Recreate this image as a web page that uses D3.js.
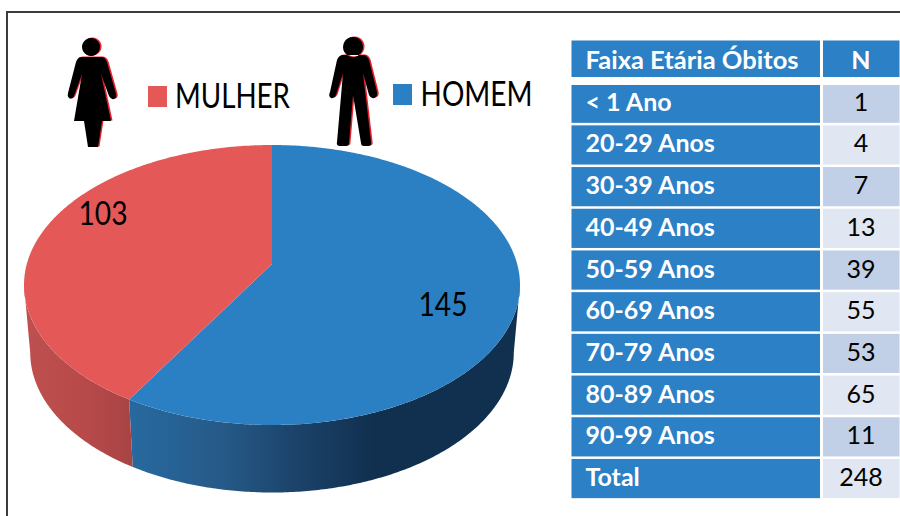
<!DOCTYPE html>
<html>
<head>
<meta charset="utf-8" />
<script src="https://d3js.org/d3.v7.min.js"></script>
<style>
    html, body { margin: 0; padding: 0; background: #fff; }
    svg { display: block; font-family: Lato, sans-serif; }
</style>
</head>
<body>
<svg id="chart" width="900" height="516"></svg>
<script>
// Donnees du graphique
const sexes = ["HOMEM", "MULHER"];
const obitos = [145, 103];
const faixas = ["< 1 Ano", "20-29 Anos", "30-39 Anos", "40-49 Anos", "50-59 Anos", "60-69 Anos", "70-79 Anos", "80-89 Anos", "90-99 Anos", "Total"];
const nFaixas = [1, 4, 7, 13, 39, 55, 53, 65, 11, 248];
const cabecalho = ["Faixa Etária Óbitos", "N"];

const svg = d3.select("#chart");
const defs = svg.append("defs");

function gradient(id, x1, x2, stops) {
    const g = defs.append("linearGradient").attr("id", id)
        .attr("gradientUnits", "userSpaceOnUse")
        .attr("x1", x1).attr("x2", x2).attr("y1", 0).attr("y2", 0);
    stops.forEach(s => g.append("stop").attr("offset", s[0]).attr("stop-color", s[1]));
}

// cadre
svg.append("path").attr("d", "M7,516V12H900").attr("fill", "none").attr("stroke", "#3c3a3a").attr("stroke-width", 2);

// --- camembert 3D ---
const couleurs = d3.scaleOrdinal().domain(sexes).range(["#2b80c4", "#e55858"]);
const xPie = d3.scaleLinear().domain([-1, 1]).range([24, 520]);
const yPie = d3.scaleLinear().domain([-1, 1]).range([145, 425]);
const depth = 67.5;
const bottomShrink = 0.975; // la base est un peu plus etroite que le dessus
const persp = -0.15; // le centre du disque apparait au-dessus du centre de l'ellipse

function project(a) {
    const u = Math.sin(a), v = -Math.cos(a);
    const d = 1 + persp * v;
    return [xPie(u * Math.sqrt(1 - persp * persp) / d), yPie((v + persp) / d)];
}
function arcPoints(a0, a1) {
    const n = Math.max(2, Math.ceil(Math.abs(a1 - a0) / 0.01));
    return d3.range(n + 1).map(i => project(a0 + (a1 - a0) * i / n));
}
const line = d3.line();
const pie = d3.pie().sort(null).value(d => d);
const slices = pie(obitos);
const centre = [xPie(0), yPie(persp)];

// angle ou la paroi avant apparait (point le plus a droite / le plus a gauche)
const aRight = d3.range(0, Math.PI, 0.005).reduce((b, a) => project(a)[0] > project(b)[0] ? a : b, 0);
const aLeft = d3.range(Math.PI, 2 * Math.PI, 0.005).reduce((b, a) => project(a)[0] < project(b)[0] ? a : b, Math.PI);

function wall(a0, a1) {
    const top = arcPoints(a0, a1);
    const bottom = arcPoints(a1, a0).map(p => [xPie(0) + (p[0] - xPie(0)) * bottomShrink, p[1] + depth]);
    return line(top.concat(bottom)) + "Z";
}

const split = slices[0].endAngle;
gradient("wallBlue", 132, 520, [[0, "#27699f"], [0.23, "#265a88"], [0.43, "#1b4269"], [0.62, "#11304f"], [1, "#11304f"]]);
gradient("wallRed", 24, 134, [[0, "#be5050"], [0.5, "#b94a4a"], [1, "#a84444"]]);

svg.append("path").attr("d", wall(aRight, split)).attr("fill", "url(#wallBlue)");
svg.append("path").attr("d", wall(split, aLeft)).attr("fill", "url(#wallRed)");

svg.selectAll("path.fatia").data(slices).enter().append("path")
    .attr("class", "fatia")
    .attr("d", d => line([centre].concat(arcPoints(d.startAngle, d.endAngle))) + "Z")
    .attr("fill", (d, i) => couleurs(sexes[i]));

// etiquettes du camembert
const posEtiquette = [[443, 303], [103, 212]];
svg.selectAll("text.valor").data(obitos).enter().append("text")
    .attr("class", "valor")
    .attr("x", (d, i) => posEtiquette[i][0])
    .attr("y", (d, i) => posEtiquette[i][1])
    .attr("text-anchor", "middle").attr("dominant-baseline", "central")
    .attr("font-size", 33).attr("fill", "#000")
    .attr("textLength", 49).attr("lengthAdjust", "spacingAndGlyphs")
    .text(d => d);

// --- legende ---
const legende = [
    { nome: "MULHER", x: 148, y: 86, tx: 175, base: 107.5, w: 115 },
    { nome: "HOMEM", x: 393, y: 84, tx: 420.5, base: 105.5, w: 112 }
];
legende.forEach(l => {
    svg.append("rect").attr("x", l.x).attr("y", l.y).attr("width", 19).attr("height", 21).attr("fill", couleurs(l.nome));
    svg.append("text").attr("x", l.tx).attr("y", l.base).attr("font-size", 35).attr("fill", "#000")
        .attr("textLength", l.w).attr("lengthAdjust", "spacingAndGlyphs").text(l.nome);
});

// --- silhouettes ---
const cabecaMulher = "M91,38a9,9 0 1,0 .01,0Z";
const mulher = cabecaMulher + " M81,57H101Q105,57 107,62L116,94Q117,98 114,99Q111,100 109,96L101,74L111,121H102L98,147H88L84,121H74L82,74L74,96Q72,100 69,98Q67,96 68,93L76,62Q78,57 81,57Z";
const cabecaHomem = "M353,37a10,10 0 1,0 .01,0Z";
const homem = cabecaHomem + " M343,55H363Q367,55 369,60L377,92Q378,97 374,98Q371,99 369,95L363,73L371,142Q372,146 368,146H364Q361,146 361,143L353,95L349,143Q349,146 346,146H340Q336,146 337,142L343,73L336,95Q334,99 331,98Q328,96 330,92L337,60Q339,55 343,55Z";
[mulher, homem].forEach(d => {
    svg.append("path").attr("d", d).attr("fill", "#e8202c").attr("transform", "translate(1.500,-0.500)");
    svg.append("path").attr("d", d).attr("fill", "#000");
});

// --- tableau ---
const xCol = [571.5, 823];
const wCol = [248.5, 76.5];
const yLinha = d3.scaleBand().domain(faixas).range([82.4, 499.4]).paddingInner(0.06).paddingOuter(0.03);
const decalage = -2.5;

svg.append("rect").attr("x", xCol[0]).attr("y", 40.5).attr("width", wCol[0]).attr("height", 36.5).attr("fill", "#2b80c6");
svg.append("rect").attr("x", xCol[1]).attr("y", 40.5).attr("width", wCol[1]).attr("height", 36.5).attr("fill", "#2b80c6");
svg.append("text").attr("x", 585.5).attr("y", 58.5).attr("dominant-baseline", "central").attr("font-size", 25).attr("font-weight", 700).attr("fill", "#fff")
    .attr("textLength", 213).attr("lengthAdjust", "spacingAndGlyphs").text(cabecalho[0]);
svg.append("text").attr("x", 861).attr("y", 58.5).attr("dominant-baseline", "central").attr("text-anchor", "middle").attr("font-size", 25).attr("font-weight", 700).attr("fill", "#fff").text(cabecalho[1]);

const linhas = svg.selectAll("g.linha").data(faixas).enter().append("g").attr("class", "linha");
const topo = f => f === faixas[0] ? 85 : yLinha(f);
const altura = f => yLinha(f) + yLinha.bandwidth() - topo(f);

linhas.append("rect").attr("x", xCol[0]).attr("y", topo).attr("width", wCol[0]).attr("height", altura).attr("fill", "#2b80c6");
linhas.append("rect").attr("x", xCol[1]).attr("y", topo).attr("width", wCol[1]).attr("height", altura)
    .attr("fill", (d, i) => i % 2 === 0 ? "#c1d0e7" : "#e0e6f2");
linhas.append("text").attr("x", 585.5).attr("y", d => yLinha(d) + yLinha.bandwidth() / 2 + decalage)
    .attr("dominant-baseline", "central").attr("font-size", 25).attr("font-weight", 700).attr("fill", "#fff")
    .text(d => d);
linhas.append("text").attr("x", 861).attr("y", d => yLinha(d) + yLinha.bandwidth() / 2 + decalage)
    .attr("dominant-baseline", "central").attr("text-anchor", "middle").attr("font-size", 25).attr("fill", "#000")
    .text((d, i) => nFaixas[i]);
</script>
</body>
</html>
